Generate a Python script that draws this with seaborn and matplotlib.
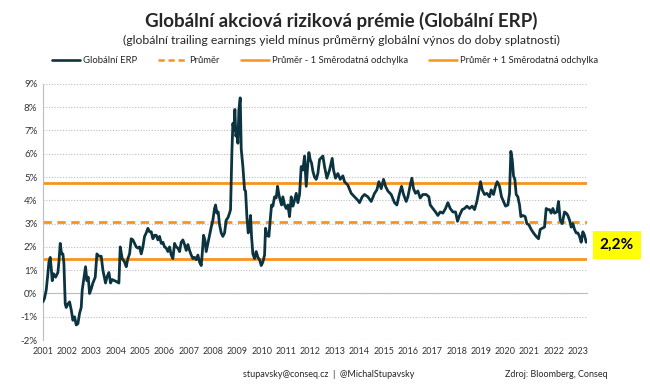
import numpy as np
import pandas as pd
import matplotlib
matplotlib.use("Agg")
import matplotlib.pyplot as plt
from matplotlib.lines import Line2D
import seaborn as sns

sns.set_style("white")
plt.rcParams['font.family'] = ['Lato', 'DejaVu Sans']

# years since Jan 2001 and ERP in %
t_offset = [
    0.000, 0.068, 0.137, 0.205, 0.247, 0.301, 0.342, 0.384, 0.438, 0.521, 0.616, 0.658, 0.712, 0.767, 0.822, 0.863,
    0.918, 0.959, 1.027, 1.096, 1.164, 1.233, 1.301, 1.370, 1.438, 1.507, 1.575, 1.616, 1.671, 1.753, 1.808, 1.863,
    1.918, 1.986, 2.055, 2.151, 2.219, 2.301, 2.397, 2.466, 2.575, 2.630, 2.712, 2.781, 2.849, 2.945, 3.041, 3.123,
    3.178, 3.260, 3.356, 3.425, 3.493, 3.562, 3.630, 3.699, 3.767, 3.836, 3.904, 3.973, 4.041, 4.110, 4.178, 4.247,
    4.315, 4.384, 4.452, 4.521, 4.589, 4.658, 4.726, 4.795, 4.863, 4.932, 5.000, 5.068, 5.137, 5.205, 5.274, 5.342,
    5.411, 5.479, 5.548, 5.616, 5.685, 5.753, 5.822, 5.890, 5.959, 6.027, 6.096, 6.164, 6.233, 6.301, 6.370, 6.438,
    6.507, 6.548, 6.603, 6.658, 6.712, 6.781, 6.849, 6.918, 6.986, 7.055, 7.096, 7.151, 7.205, 7.260, 7.329, 7.397,
    7.466, 7.534, 7.603, 7.671, 7.712, 7.767, 7.808, 7.849, 7.890, 7.932, 7.973, 8.014, 8.055, 8.110, 8.151, 8.219,
    8.288, 8.329, 8.384, 8.438, 8.493, 8.534, 8.575, 8.630, 8.699, 8.767, 8.836, 8.904, 8.973, 9.041, 9.110, 9.151,
    9.205, 9.288, 9.342, 9.397, 9.452, 9.521, 9.589, 9.644, 9.699, 9.753, 9.808, 9.863, 9.932, 10.000, 10.068, 10.137,
    10.205, 10.274, 10.342, 10.411, 10.479, 10.548, 10.616, 10.685, 10.753, 10.822, 10.890, 10.932, 10.986, 11.041,
    11.096, 11.164, 11.233, 11.301, 11.370, 11.507, 11.575, 11.671, 11.781, 11.890, 11.945, 12.027, 12.123, 12.219,
    12.329, 12.397, 12.534, 12.671, 12.808, 12.945, 13.014, 13.123, 13.219, 13.356, 13.493, 13.630, 13.726, 13.808,
    13.904, 14.000, 14.082, 14.178, 14.315, 14.452, 14.548, 14.658, 14.740, 14.822, 14.932, 15.000, 15.096, 15.164,
    15.233, 15.315, 15.411, 15.507, 15.616, 15.753, 15.863, 15.918, 16.027, 16.137, 16.233, 16.329, 16.438, 16.548,
    16.644, 16.740, 16.849, 16.959, 17.041, 17.123, 17.233, 17.329, 17.425, 17.534, 17.644, 17.740, 17.836, 17.918,
    17.986, 18.055, 18.151, 18.247, 18.356, 18.425, 18.521, 18.603, 18.671, 18.767, 18.849, 18.932, 19.014, 19.110,
    19.178, 19.233, 19.288, 19.342, 19.397, 19.452, 19.521, 19.589, 19.644, 19.726, 19.822, 19.890, 19.973, 20.068,
    20.164, 20.274, 20.370, 20.438, 20.521, 20.616, 20.685, 20.753, 20.822, 20.890, 20.959, 21.027, 21.123, 21.192,
    21.260, 21.342, 21.438, 21.507, 21.575, 21.644, 21.712, 21.781, 21.849, 21.918, 21.986, 22.055, 22.123, 22.192,
    22.260, 22.329,
]
erp = [
    -0.36, -0.2, 0.15, 0.85, 1.35, 1.55, 1.1, 0.55, 0.85, 0.7, 0.9, 1.35, 2.15, 1.7, 1.7, 1.3,
    -0.45, -0.6, -0.45, -0.36, -0.7, -1.15, -1.0, -1.35, -1.3, -0.85, -0.6, 0.15, 0.55, 1.15, 0.55, 0.7,
    0.0, 0.2, 0.45, 0.7, 1.7, 1.6, 1.6, 1.0, 0.45, 0.7, 0.9, 0.45, 0.6, 0.55, 0.5, 0.45,
    2.0, 1.5, 1.35, 1.15, 1.5, 1.7, 2.35, 2.3, 2.15, 2.0, 1.95, 2.0, 1.7, 2.0, 2.45, 2.6,
    2.8, 2.65, 2.65, 2.35, 2.5, 2.5, 2.3, 2.45, 2.15, 2.2, 2.0, 1.95, 1.8, 2.0, 1.65, 1.5,
    2.15, 2.0, 1.95, 1.8, 2.2, 2.3, 2.1, 1.85, 2.1, 1.85, 1.65, 1.5, 1.55, 1.45, 1.65, 1.35,
    1.2, 1.7, 2.5, 2.3, 1.8, 2.15, 2.5, 2.85, 3.15, 3.65, 3.8, 3.45, 3.5, 2.95, 2.6, 2.45,
    2.6, 3.15, 3.25, 3.45, 3.6, 6.05, 7.3, 7.0, 7.9, 6.75, 7.0, 6.45, 7.9, 8.4, 6.2, 5.45,
    4.45, 4.4, 3.3, 2.6, 2.85, 3.35, 2.45, 1.7, 1.5, 1.8, 1.55, 1.45, 1.2, 1.35, 1.65, 2.8,
    2.5, 2.45, 3.15, 3.8, 3.75, 4.15, 4.1, 4.6, 4.25, 4.0, 3.8, 4.15, 3.8, 3.65, 3.8, 3.3,
    4.15, 3.75, 4.0, 4.3, 3.9, 4.25, 5.45, 5.3, 5.9, 4.6, 5.6, 6.05, 5.75, 5.6,
    5.25, 5.0, 4.9, 5.15, 5.75, 5.9, 5.45, 4.95, 5.3, 5.8, 5.3, 4.95, 5.15, 4.9,
    5.05, 4.8, 4.65, 4.3, 4.15, 4.0, 3.9, 4.15, 4.25, 4.15, 3.95, 4.3, 4.45, 4.8,
    4.5, 4.9, 4.6, 4.4, 4.25, 3.9, 3.8, 4.3, 4.6, 4.25, 3.95, 4.15, 4.65, 4.95,
    4.5, 4.3, 4.4, 4.1, 4.25, 4.25, 4.15, 3.8, 3.65, 3.5, 3.35, 3.5, 3.45, 3.65,
    3.9, 3.65, 3.5, 3.5, 3.1, 3.35, 3.6, 3.65, 3.75, 3.65, 3.75, 3.6, 3.95, 4.4,
    4.8, 4.45, 4.25, 4.3, 4.15, 4.45, 4.25, 4.6, 4.8, 4.6, 4.15, 3.95, 3.75, 3.8,
    4.3, 6.1, 5.75, 5.05, 4.9, 4.25, 4.15, 3.8, 3.3, 3.35, 3.3, 3.0, 2.95, 2.75,
    2.6, 2.45, 2.35, 2.75, 2.8, 2.85, 3.65, 3.6, 3.6, 3.45, 3.65, 3.45, 3.5, 3.95,
    3.15, 3.0, 3.5, 3.45, 3.35, 3.15, 2.85, 3.0, 2.75, 2.6, 2.6, 2.45, 2.2, 2.65,
    2.5, 2.2,
]
start_year = 2001
mean_erp = 3.08
upper_sd = 4.74
lower_sd = 1.48
years = list(range(2001, 2024))
yticks = list(range(-2, 10))

df = pd.DataFrame({'year': [start_year + t for t in t_offset], 'erp': erp})

navy = '#0c3440'
orange = '#f7941d'

fig = plt.figure(figsize=(6.5, 3.9), dpi=100)
ax = fig.add_axes([0.066, 0.128, 0.837, 0.657])

for y in yticks:
    ax.axhline(y, color='#bdbdbd', lw=0.8, ls=(0, (1, 1.5)), zorder=0)

ax.axhline(upper_sd, color=orange, lw=2, zorder=2)
ax.axhline(lower_sd, color=orange, lw=2, zorder=2)
ax.axhline(mean_erp, color=orange, lw=2, ls=(0, (3, 2)), zorder=2)

sns.lineplot(data=df, x='year', y='erp', color=navy, lw=2, ax=ax, zorder=3)

ax.set_xlim(2001, 2023.36)
ax.set_ylim(-2, 9)
ax.set_yticks(yticks)
ax.set_yticklabels([f"{v}%" for v in yticks], fontsize=7, color='#333333')
ax.set_xlabel('')
ax.set_ylabel('')

for s in ['top', 'right']:
    ax.spines[s].set_visible(False)
ax.spines['left'].set_color('#bdbdbd')
ax.spines['bottom'].set_position(('data', 0))
ax.spines['bottom'].set_color('#bdbdbd')
ax.set_xticks(years)
ax.tick_params(axis='x', direction='out', length=3, color='#bdbdbd', labelbottom=False)
ax.tick_params(axis='y', length=0, pad=4)

sec = ax.secondary_xaxis('bottom')
sec.set_xticks(years)
sec.set_xticklabels([str(y) for y in years], fontsize=6.5, color='#333333')
sec.tick_params(length=0, pad=5)
sec.spines['bottom'].set_visible(False)

last = erp[-1]
ax.annotate(f"{last:.1f}%".replace('.', ','), xy=(1.0, last), xycoords=('axes fraction', 'data'),
            xytext=(9, -2), textcoords='offset points', ha='left', va='center',
            fontsize=11, fontweight='bold', color='black', annotation_clip=False,
            bbox=dict(boxstyle='square,pad=0.45', fc='#ffff00', ec='none'))

fig.text(0.525, 0.945, 'Globální akciová riziková prémie (Globální ERP)', ha='center', va='center',
         fontsize=13.5, fontweight='bold')
fig.text(0.525, 0.897, '(globální trailing earnings yield mínus průměrný globální výnos do doby splatnosti)',
         ha='center', va='center', fontsize=8.8)

handles = [
    Line2D([], [], color=navy, lw=1.9),
    Line2D([], [], color=orange, lw=1.8, ls=(0, (2.5, 1.5))),
    Line2D([], [], color=orange, lw=1.8),
    Line2D([], [], color=orange, lw=1.8),
]
labels = ['Globální ERP', 'Průměr', 'Průměr - 1 Směrodatná odchylka', 'Průměr + 1 Směrodatná odchylka']
fig.legend(handles, labels, loc='center', bbox_to_anchor=(0.5, 0.845), ncol=4, frameon=False,
           fontsize=6.8, handlelength=3, handletextpad=0.3, columnspacing=2.2)

fig.text(0.505, 0.04, 'stupavsky@conseq.cz  |  @MichalStupavsky', ha='center', va='center', fontsize=6.5)
fig.text(0.935, 0.04, 'Zdroj: Bloomberg, Conseq', ha='right', va='center', fontsize=6.5)

fig.savefig('out.png', dpi=100)
